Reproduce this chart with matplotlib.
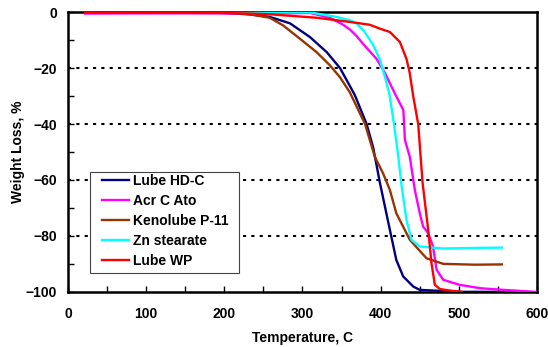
import matplotlib
matplotlib.use("Agg")
import matplotlib.pyplot as plt
from matplotlib.ticker import MultipleLocator
from matplotlib.patches import Rectangle

plt.rcParams['font.family'] = ['Liberation Sans', 'DejaVu Sans']
plt.rcParams['font.weight'] = 'bold'

# Data
hdc_t = [165, 200, 233, 258, 284, 309.5, 331, 348, 360.6, 367, 382, 390.4, 399, 411.8, 420, 428.8, 441.6, 450, 500, 557]
hdc_w = [0, -0.3, -0.8, -1.7, -4, -8.9, -14.3, -20, -26.4, -29.7, -40, -48.4, -61, -77.9, -88.6, -94.5, -98.1, -99.3, -100, -100]

acr_t = [22, 150, 250, 310, 335, 352, 361, 369, 378, 394.7, 405, 418, 429, 431, 437.3, 443.7, 450, 454.3, 460.8, 467, 471.5, 480, 501, 527, 557, 598]
acr_w = [-0.5, -0.4, -0.5, -0.3, -2, -4.5, -6.3, -8.5, -11.5, -16.7, -21.5, -29, -35, -45.7, -51.8, -63.6, -71.9, -76.7, -79, -83.8, -92.1, -95.7, -97.5, -98.7, -99.3, -100]

ken_t = [200, 233, 258, 275, 296.7, 318, 335, 348, 360.6, 380, 392.6, 403, 411.8, 420, 437.3, 458.6, 480, 520, 555]
ken_w = [0, -0.8, -2, -4.7, -9.5, -14.3, -19, -23.3, -28.7, -40, -51.8, -57.6, -63.6, -71.9, -81.4, -88, -90, -90.3, -90.2]

zn_t = [22, 250, 310, 343.6, 360.6, 369, 378, 390, 399, 405, 411, 417, 422.6, 426.7, 433, 439.4, 450, 480, 520, 555]
zn_w = [0, 0, -0.1, -1.7, -2.9, -4, -6.5, -11.5, -17, -22.7, -29, -40, -51.8, -62, -74.3, -81.4, -83.8, -84.5, -84.3, -84.2]

wp_t = [22, 200, 233, 260, 318, 360.6, 386, 399, 411.8, 424.6, 433, 437, 441.6, 448, 453.6, 460.8, 465, 469.3, 475.7, 490, 504]
wp_w = [-0.2, -0.3, -0.5, -0.8, -2, -3.5, -4.5, -5.9, -7.1, -10.7, -16.7, -21.5, -30, -40, -61, -77.9, -89.8, -97.5, -99, -99.6, -100]

labels = ['Lube HD-C', 'Acr C Ato', 'Kenolube P-11', 'Zn stearate', 'Lube WP']
colors = ['#000080', '#FF00FF', '#993300', '#00FFFF', '#FF0000']

fig = plt.figure(figsize=(5.48, 3.47), dpi=100)
ax = fig.add_axes([0.124, 0.159, 0.856, 0.806])

series = [(hdc_t, hdc_w), (acr_t, acr_w), (ken_t, ken_w), (zn_t, zn_w), (wp_t, wp_w)]
for (t, w), lab, c in zip(series, labels, colors):
    ax.plot(t, w, color=c, lw=1.7, label=lab, zorder=3)

ax.set_xlim(0, 600)
ax.set_ylim(-100, 0)
ax.xaxis.set_major_locator(MultipleLocator(100))
ax.xaxis.set_minor_locator(MultipleLocator(50))
ax.yaxis.set_major_locator(MultipleLocator(20))
ax.yaxis.set_minor_locator(MultipleLocator(10))
ax.tick_params(which='both', direction='in', length=4, width=1, labelsize=10, pad=8)
ax.tick_params(axis='x', pad=11)
for lab in ax.get_xticklabels() + ax.get_yticklabels():
    lab.set_fontweight('bold')

for yv in [-20, -40, -60, -80]:
    ax.axhline(yv, color='black', lw=1.5, ls=(0, (1.5, 2.5)), zorder=1)

for s in ax.spines.values():
    s.set_linewidth(1.8)
    s.set_color('black')

ax.set_xlabel('Temperature, C', fontsize=10, fontweight='bold')
ax.set_ylabel('Weight Loss, %', fontsize=10, fontweight='bold')
ax.xaxis.set_label_coords(0.5, -0.139)
ax.yaxis.set_label_coords(-0.092, 0.5)

# legend frame
rect = Rectangle((0.0469, 0.0679), 0.3177, 0.3607, transform=ax.transAxes,
                 facecolor='white', edgecolor='#444444', lw=0.8, zorder=4)
ax.add_patch(rect)

leg = ax.legend(loc='upper left', bbox_to_anchor=(0.0718, 0.421), borderaxespad=0,
                frameon=False, handlelength=1.95, handletextpad=0.3,
                labelspacing=0.43, borderpad=0,
                prop={'weight': 'bold', 'size': 10})
leg.set_zorder(5)

fig.savefig('out.png', dpi=100)
